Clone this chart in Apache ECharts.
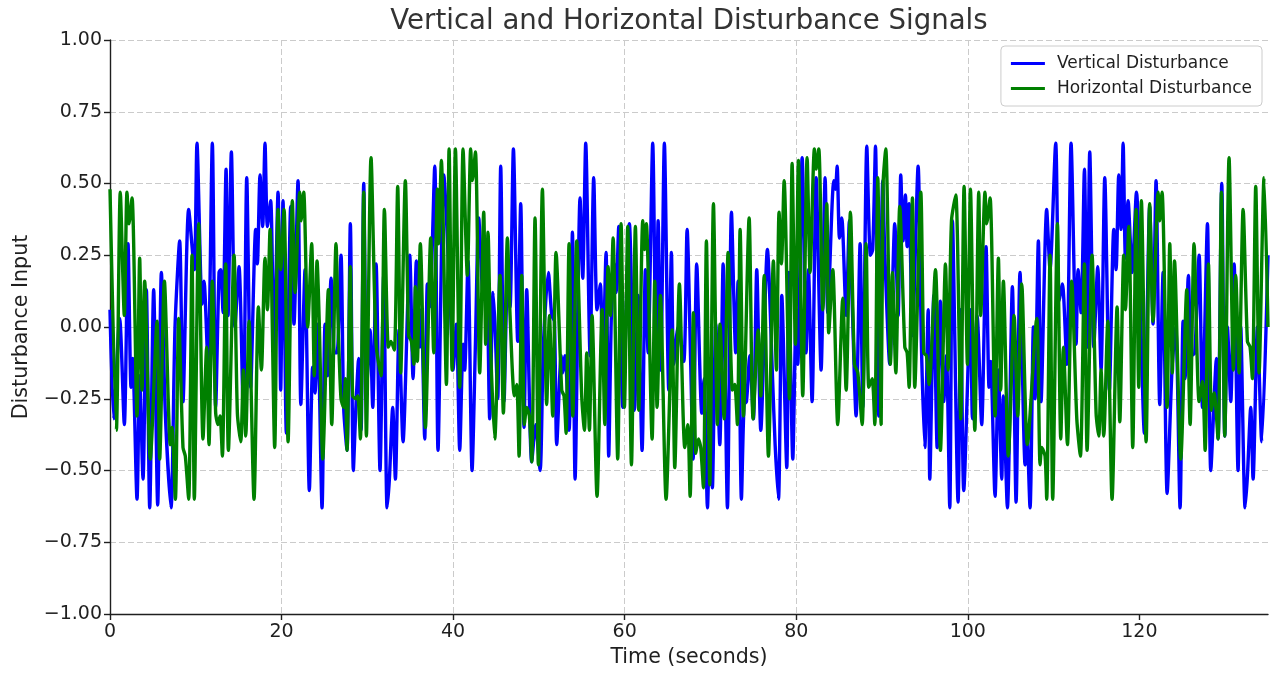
<!DOCTYPE html>
<html><head><meta charset="utf-8">
<script src="https://cdn.jsdelivr.net/npm/echarts@6/dist/echarts.min.js"></script>
<style>html,body{margin:0;padding:0;background:#fff}#chart{width:1271px;height:674px}</style>
</head><body><div id="chart"></div>
<script>
const chartTitle = 'Vertical and Horizontal Disturbance Signals';
const seriesNames = ['Vertical Disturbance', 'Horizontal Disturbance'];
const xTicks = [0, 20, 40, 60, 80, 100, 120];
const yTicks = [-1, -0.75, -0.5, -0.25, 0, 0.25, 0.5, 0.75, 1];

const vertTime = [0,0.43,1.13,1.67,2.10,2.45,2.64,3.15,3.46,3.85,4.24,4.63,5.09,5.56,5.99,6.45,7.11,7.58,8.12,8.51,9.17,9.83,10.14,10.73,10.96,11.43,11.93,12.32,12.71,12.90,13.18,13.53,13.76,14.15,14.57,15.04,15.55,15.94,16.40,16.98,17.18,17.49,17.80,18.07,18.35,18.73,19.12,19.59,19.90,20.17,20.56,21.07,21.45,21.92,22.25,22.74,23.24,23.63,23.90,24.21,24.72,25.07,25.38,25.77,26.16,26.47,26.93,27.24,27.63,28.02,28.37,28.68,28.99,29.27,29.58,29.93,30.32,30.63,31.02,31.48,31.91,32.30,32.57,32.96,33.27,33.70,34.16,34.94,35.33,35.72,36.11,36.30,36.69,37.00,37.27,37.86,38.24,38.91,39.80,39.99,40.38,40.77,41.16,41.35,41.74,42.21,42.60,42.99,43.49,43.88,44.27,44.66,44.89,45.20,45.55,45.94,46.37,46.64,47.03,47.53,47.88,48.27,48.58,49.16,49.63,50.14,50.53,51.11,51.50,51.81,52.08,52.59,52.74,53.05,53.52,53.91,54.22,54.80,55.11,55.46,55.97,56.39,56.78,57.17,57.44,57.83,58.14,58.45,58.80,59.00,59.31,59.78,60.55,61.14,61.56,62.03,62.42,62.73,63.27,63.66,63.90,64.21,64.63,65.14,65.45,65.72,66.23,66.89,67.28,67.70,67.98,68.40,68.99,69.26,69.65,70.04,70.23,70.62,71.09,71.48,71.98,72.45,72.95,73.22,73.61,73.92,74.20,74.58,75.01,75.40,75.87,76.64,77.23,77.54,77.93,78.32,78.90,79.13,79.60,79.99,80.18,80.69,81.15,81.42,81.85,82.32,82.90,83.37,83.68,84.38,84.57,84.77,85.04,85.31,85.82,86.20,86.48,86.98,87.45,87.76,88.23,88.65,88.92,89.24,89.62,90.09,90.32,90.91,91.49,91.88,92.19,92.46,92.73,92.93,93.16,93.55,94.21,94.60,94.99,95.38,95.57,96.04,96.43,96.81,97.20,97.51,97.90,98.21,98.87,99.18,99.53,100.31,100.55,101.09,101.62,102.13,102.48,102.67,103.18,103.57,103.96,104.15,104.62,105.20,105.63,106.09,106.68,106.87,107.26,107.65,107.84,108.23,108.54,109.20,109.59,110.25,110.64,111.03,111.54,112.04,112.63,112.86,113.21,113.60,113.91,114.22,114.69,115.15,115.54,115.97,116.51,117.02,117.29,117.60,117.87,118.11,118.38,118.69,119.16,119.66,120.59,121.21,121.60,121.95,122.38,122.77,123.24,123.82,124.24,124.75,125.10,125.33,125.72,126.07,126.46,126.97,127.36,127.94,128.33,128.99,129.18,129.61,129.96,130.27,130.66,131.05,131.51,131.82,132.33,132.60,132.99,133.26,133.77,134.27,135.00];
const vertValue = [0.06,-0.32,0.03,-0.34,0.29,-0.21,-0.11,-0.60,-0.17,-0.53,0.13,-0.63,0.13,-0.62,0.19,-0.30,-0.63,0.00,0.30,-0.26,0.41,0.20,0.64,0.08,0.16,-0.14,0.64,-0.28,0.19,0.20,0.05,0.55,0.04,0.61,0.00,0.21,-0.31,0.52,-0.21,0.34,0.22,0.53,0.35,0.64,0.35,0.44,-0.10,0.47,-0.22,0.44,-0.37,0.42,0.01,0.51,-0.27,0.20,-0.57,-0.14,-0.23,0.01,-0.63,0.01,-0.17,0.17,-0.09,-0.09,0.25,-0.28,-0.43,0.36,-0.50,-0.27,-0.11,-0.36,0.50,-0.21,-0.01,-0.28,0.22,-0.50,0.18,-0.63,-0.53,-0.28,-0.53,-0.01,-0.40,0.25,-0.18,0.23,-0.07,0.06,-0.39,0.15,0.07,0.56,-0.43,0.53,-0.01,-0.15,0.01,-0.43,-0.06,-0.15,0.23,-0.50,-0.06,0.38,0.12,0.20,-0.32,0.12,0.00,-0.25,0.56,-0.26,0.20,0.07,0.62,-0.05,0.43,-0.35,0.13,-0.47,-0.34,-0.50,-0.06,0.19,0.04,0.02,-0.41,-0.10,-0.16,-0.10,-0.36,0.33,-0.53,0.45,0.17,0.64,-0.10,0.52,0.06,0.15,-0.15,0.26,-0.45,0.04,0.22,0.12,0.35,-0.28,0.36,-0.29,0.11,-0.43,0.20,-0.09,0.64,-0.13,0.37,-0.15,0.64,-0.22,0.26,-0.13,0.00,-0.12,0.34,-0.13,-0.46,0.22,-0.30,-0.18,-0.63,-0.12,-0.56,0.01,-0.41,0.22,-0.63,0.40,-0.09,0.16,-0.60,-0.27,-0.26,-0.10,-0.32,0.20,-0.36,0.27,-0.17,-0.41,-0.60,0.11,-0.49,0.19,-0.46,0.06,-0.13,0.59,-0.09,0.20,-0.26,0.52,-0.15,0.52,0.05,0.51,0.48,0.56,0.31,0.38,0.04,0.37,0.13,-0.31,0.29,-0.28,0.63,0.25,0.27,0.63,-0.31,0.51,0.26,-0.13,0.36,0.04,0.53,0.30,0.46,0.28,0.43,-0.03,0.56,-0.07,-0.42,0.06,-0.53,0.11,-0.42,0.09,-0.26,-0.10,-0.63,0.37,-0.61,0.06,-0.57,0.06,-0.32,0.04,-0.34,0.28,-0.21,-0.12,-0.59,-0.15,-0.53,-0.24,-0.63,0.14,-0.61,0.19,-0.48,-0.34,-0.63,0.00,-0.25,0.30,-0.26,0.41,0.20,0.64,0.09,0.15,-0.13,0.64,-0.06,0.20,0.05,0.55,-0.07,0.61,-0.07,0.21,-0.15,0.52,-0.22,0.34,0.20,0.53,0.34,0.64,0.24,0.44,0.19,0.47,-0.37,0.42,0.01,0.51,-0.27,0.19,-0.58,-0.14,0.00,-0.63,0.02,-0.18,0.18,-0.10,-0.09,0.25,-0.28,0.36,-0.50,-0.11,-0.39,0.50,-0.38,0.00,-0.26,0.22,-0.50,0.00,-0.63,-0.52,-0.28,-0.53,0.00,-0.40,0.25];

const horzTime = [0,0.74,1.20,1.67,1.98,2.22,2.57,3.15,3.46,3.73,4.04,4.70,5.48,5.79,6.34,7.03,7.23,7.62,8.01,8.51,8.78,9.17,9.56,9.83,10.34,10.84,11.27,11.54,11.93,12.32,12.59,12.83,13.10,13.49,13.80,14.46,14.85,15.24,15.55,15.82,16.21,16.79,17.30,17.65,18.07,18.35,18.66,19.20,19.59,19.90,20.29,20.76,21.26,21.57,22.12,22.27,22.58,23.05,23.51,23.82,24.14,24.41,24.80,25.46,25.85,26.35,26.62,26.93,27.24,27.44,27.63,28.02,28.29,28.68,28.88,29.19,29.58,29.89,30.43,31.02,31.60,31.99,32.45,32.76,33.15,33.54,33.89,34.43,34.82,35.13,35.44,35.60,35.83,36.18,36.77,37.39,37.74,38.17,38.32,38.63,39.22,39.53,39.88,40.27,40.77,41.16,41.66,42.05,42.25,42.60,43.10,43.57,43.80,44.07,44.38,44.85,45.47,45.86,46.33,46.64,47.14,47.42,47.69,48.00,48.31,48.58,48.89,49.17,49.55,49.94,50.41,50.91,51.23,51.61,52.00,52.66,52.93,53.17,53.52,53.95,54.41,54.99,55.31,55.58,55.89,56.20,56.78,57.37,57.68,58.07,58.34,58.65,59.19,59.58,59.97,60.36,60.79,61.25,61.64,62.11,62.34,62.53,63.20,63.51,63.78,64.17,64.83,65.53,65.84,66.38,67.01,67.36,67.63,68.02,68.29,68.60,68.87,69.18,69.53,69.92,70.35,70.81,71.12,71.59,72.06,72.56,72.83,73.14,73.46,73.85,74.51,74.97,75.56,75.87,76.26,76.76,77.34,77.69,78.00,78.28,78.59,79.21,79.52,79.91,80.26,80.76,81.27,81.62,82.12,82.32,82.63,83.10,83.56,83.79,84.26,84.84,85.43,85.82,86.32,86.79,87.18,87.68,88.15,88.46,88.85,89.16,89.51,89.90,90.13,90.44,90.98,91.22,91.61,92.07,92.66,92.93,93.16,93.55,93.82,94.52,94.87,95.18,95.49,96.23,96.81,97.40,97.71,98.10,98.60,99.18,99.57,99.96,100.31,100.82,101.28,101.51,102.01,102.21,102.60,103.18,103.57,103.84,104.15,104.73,105.40,105.82,106.29,106.95,108.04,108.43,108.62,109.01,109.20,109.59,109.90,110.45,110.84,111.15,111.62,112.12,112.71,113.13,113.60,113.91,114.49,114.96,115.27,115.54,115.85,116.32,116.82,117.41,117.72,118.18,118.38,118.77,119.23,119.62,119.93,120.24,120.79,121.21,121.60,122.19,122.38,122.65,123.24,123.55,123.85,124.10,124.83,125.53,125.92,126.38,126.97,127.36,127.67,128.06,128.41,128.72,129.18,129.57,129.96,130.46,130.97,131.24,131.63,132.10,132.60,132.91,133.18,133.57,133.96,134.54,135.00];
const horzValue = [0.48,-0.36,0.47,0.04,0.47,0.36,0.45,-0.31,0.24,-0.22,0.16,-0.46,0.02,-0.46,0.16,-0.41,-0.35,-0.60,0.03,-0.42,-0.45,-0.60,0.25,-0.60,0.36,-0.39,-0.07,-0.41,0.16,-0.30,-0.34,-0.31,-0.45,0.22,-0.43,0.25,-0.30,-0.40,-0.15,-0.38,0.02,-0.60,0.07,-0.15,0.24,0.06,0.34,-0.42,0.41,0.20,0.41,-0.40,0.44,0.12,0.47,0.37,0.47,0.00,0.29,-0.17,0.23,0.00,-0.46,0.13,-0.34,0.29,-0.01,-0.25,-0.28,-0.18,-0.43,0.21,-0.24,-0.25,-0.24,-0.39,0.47,-0.38,0.59,-0.06,-0.17,0.41,-0.07,-0.05,-0.08,0.49,-0.16,0.51,-0.03,-0.05,-0.13,0.14,-0.12,0.29,-0.35,0.31,-0.09,0.48,0.29,0.58,-0.20,0.62,-0.15,0.62,-0.21,0.62,0.18,0.62,0.51,0.61,-0.16,0.40,-0.06,0.33,-0.08,-0.39,0.18,-0.30,0.31,0.04,-0.24,-0.20,-0.45,0.18,-0.34,-0.28,-0.31,-0.47,0.38,-0.48,0.48,-0.27,0.04,-0.31,0.26,-0.22,-0.24,-0.37,0.29,-0.31,0.30,-0.24,-0.36,-0.09,-0.36,0.04,-0.59,0.06,-0.34,0.21,0.04,0.31,-0.46,0.36,-0.28,0.35,-0.48,0.35,-0.29,0.37,0.27,0.36,-0.39,0.16,-0.28,0.11,-0.60,-0.01,-0.49,0.15,-0.42,-0.34,-0.59,0.05,-0.44,-0.39,-0.42,-0.56,0.30,-0.55,0.43,-0.34,0.01,-0.32,0.26,-0.22,-0.20,-0.34,0.34,-0.31,0.38,-0.32,-0.01,-0.24,0.18,-0.45,0.23,-0.15,0.40,0.22,0.51,-0.25,0.57,-0.06,0.58,-0.24,0.59,0.19,0.62,0.55,0.62,0.06,0.43,-0.02,0.20,-0.34,0.10,-0.22,0.40,-0.13,-0.16,-0.34,0.29,-0.21,-0.18,-0.34,0.52,-0.34,0.50,0.62,-0.13,0.19,-0.16,0.42,-0.07,-0.09,-0.21,0.45,-0.21,0.47,-0.09,-0.10,-0.20,0.20,-0.43,0.22,-0.15,0.37,0.46,-0.32,0.49,-0.13,0.48,-0.36,0.47,0.04,0.47,0.36,0.45,-0.31,0.24,-0.22,0.16,-0.45,0.04,-0.31,0.15,-0.41,0.03,-0.48,-0.42,-0.45,-0.60,0.25,-0.60,0.36,-0.39,-0.07,-0.41,0.16,-0.32,-0.45,0.22,-0.43,0.25,-0.30,-0.38,-0.15,-0.38,0.02,-0.60,0.07,-0.33,0.25,0.06,0.35,-0.42,0.41,-0.21,0.44,-0.40,0.43,0.02,0.47,0.37,0.47,-0.28,0.29,-0.16,0.23,-0.46,0.13,-0.34,0.29,-0.26,-0.19,-0.43,0.22,-0.29,-0.23,-0.39,0.47,-0.38,0.59,-0.15,0.18,-0.16,0.41,-0.05,-0.07,-0.18,0.49,-0.16,0.52,0.00];

const FONT = 'DejaVu Sans';
const INK = '#1f1f1f';
const fmtY = v => (v < 0 ? '\u2212' : '') + Math.abs(v).toFixed(2);
const zip = (a, b) => a.map((t, i) => [t, b[i]]);

const chart = echarts.init(document.getElementById('chart'), null, { renderer: 'canvas' });
chart.setOption({
  animation: false,
  backgroundColor: '#ffffff',
  textStyle: { fontFamily: FONT },
  title: {
    text: chartTitle, left: 689, top: 8, padding: 0, textAlign: 'center',
    textStyle: { fontFamily: FONT, fontSize: 27.6, fontWeight: 'normal', color: '#333333' }
  },
  legend: {
    data: seriesNames, orient: 'vertical', right: 9, top: 46,
    padding: [9, 10, 9, 10], itemWidth: 34, itemHeight: 3, itemGap: 8, icon: 'rect',
    borderColor: '#cccccc', borderWidth: 1, borderRadius: 4,
    backgroundColor: 'rgba(255,255,255,0.8)', selectedMode: false,
    textStyle: { fontFamily: FONT, fontSize: 17, color: INK, lineHeight: 17, padding: [0, 0, 0, 7] }
  },
  grid: { left: 110, right: 3, top: 40, bottom: 60, containLabel: false },
  xAxis: {
    type: 'value', min: 0, max: 135, interval: 20,
    name: 'Time (seconds)', nameLocation: 'middle', nameGap: 31,
    nameTextStyle: { fontFamily: FONT, fontSize: 20.6, color: INK },
    axisLine: { show: true, onZero: false, lineStyle: { color: INK, width: 1.4 } },
    axisTick: { show: true, length: 6, customValues: xTicks, lineStyle: { color: INK, width: 1.4 } },
    axisLabel: { customValues: xTicks, fontFamily: FONT, fontSize: 19, color: INK, margin: 9 },
    splitLine: { show: true, showMaxLine: false, lineStyle: { color: '#cbcbcb', width: 1, type: [6, 3] } }
  },
  yAxis: {
    type: 'value', min: -1, max: 1, interval: 0.25,
    name: 'Disturbance Input', nameLocation: 'middle', nameGap: 78, nameRotate: 90,
    nameTextStyle: { fontFamily: FONT, fontSize: 20.6, color: INK },
    axisLine: { show: true, lineStyle: { color: INK, width: 1.4 } },
    axisTick: { show: true, length: 6, customValues: yTicks, lineStyle: { color: INK, width: 1.4 } },
    axisLabel: { customValues: yTicks, formatter: fmtY, fontFamily: FONT, fontSize: 19, color: INK, margin: 8 },
    splitLine: { show: true, lineStyle: { color: '#cbcbcb', width: 1, type: [6, 3] } }
  },
  series: [
    { name: seriesNames[0], type: 'line', data: zip(vertTime, vertValue), showSymbol: false, symbol: 'none',
      smooth: 0.25, color: '#0000ff', lineStyle: { color: '#0000ff', width: 3.4 } },
    { name: seriesNames[1], type: 'line', data: zip(horzTime, horzValue), showSymbol: false, symbol: 'none',
      smooth: 0.25, color: '#008000', lineStyle: { color: '#008000', width: 3.4 } }
  ]
});
</script></body></html>
